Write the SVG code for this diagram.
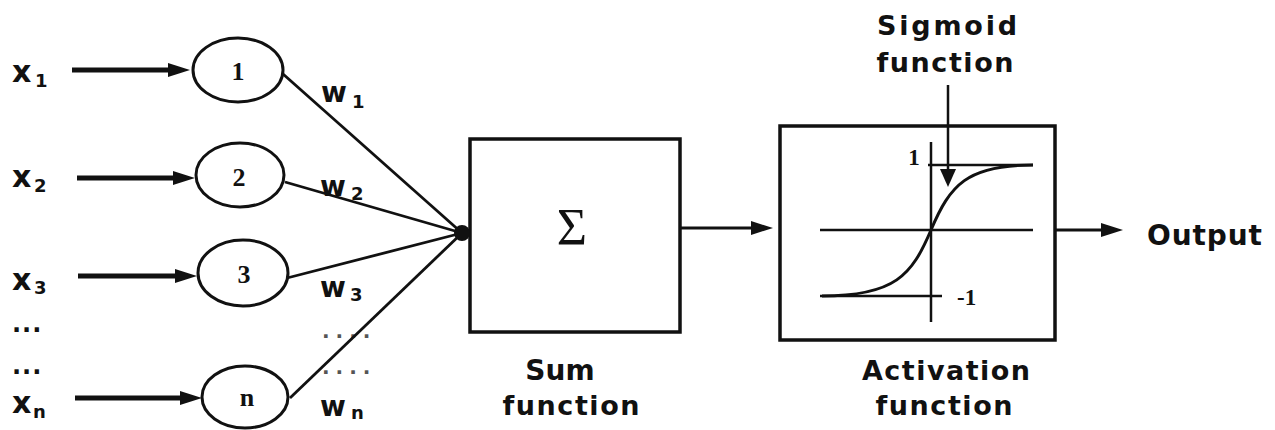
<svg xmlns="http://www.w3.org/2000/svg" width="1275" height="430" viewBox="0 0 1275 430">
<style>
.t{font-family:"DejaVu Sans","Open Sans",sans-serif;font-weight:bold;fill:#111}
.lbl{font-size:27px;text-anchor:middle}
.var{font-size:30px}
.sub{font-size:18px}
.dig{font-size:26px;text-anchor:middle;font-family:"Liberation Serif","DejaVu Serif",serif}
.node{fill:#fff;stroke:#111;stroke-width:3}
.box{fill:#fff;stroke:#111;stroke-width:3.5}
.in{stroke:#111;stroke-width:5;fill:none}
.w{stroke:#111;stroke-width:2.8;fill:none}
.ax{stroke:#111;stroke-width:2.5;fill:none}
</style>
<defs>
<marker id="ah" markerUnits="userSpaceOnUse" markerWidth="24" markerHeight="16" refX="6" refY="7" orient="auto">
<path d="M0,0 L22,7 L0,14 z" fill="#111"/>
</marker>
<marker id="ahs" markerUnits="userSpaceOnUse" markerWidth="20" markerHeight="20" refX="4" refY="8" orient="auto">
<path d="M0,0 L18,8 L0,16 z" fill="#111"/>
</marker>
</defs>
<rect width="1275" height="430" fill="#fff"/>

<g id="inputs">
<text class="t var" x="12" y="82">x</text><text class="t sub" x="35" y="87">1</text>
<text class="t var" x="12" y="187">x</text><text class="t sub" x="34" y="192">2</text>
<text class="t var" x="12" y="290">x</text><text class="t sub" x="34" y="294">3</text>
<text class="t" x="12" y="332" style="font-size:24px;letter-spacing:1px">...</text>
<text class="t" x="12" y="374" style="font-size:24px;letter-spacing:1px">...</text>
<text class="t var" x="12" y="413">x</text><text class="t sub" x="33" y="418">n</text>
</g>

<g id="node1"><ellipse class="node" cx="238" cy="70" rx="45" ry="32"/><text class="t dig" x="238" y="80">1</text></g>
<g id="node2"><ellipse class="node" cx="240" cy="175" rx="44" ry="32"/><text class="t dig" x="239" y="186">2</text></g>
<g id="node3"><ellipse class="node" cx="243" cy="273" rx="45" ry="33"/><text class="t dig" x="244" y="283">3</text></g>
<g id="noden"><ellipse class="node" cx="245" cy="397" rx="43" ry="31"/><text class="t dig" x="247" y="406">n</text></g>

<g id="weights">
<text class="t var" x="321" y="102" style="font-size:28px">w</text><text class="t sub" x="352" y="108">1</text>
<text class="t var" x="320" y="196" style="font-size:28px">w</text><text class="t sub" x="351" y="200">2</text>
<text class="t var" x="320" y="297" style="font-size:28px">w</text><text class="t sub" x="350" y="301">3</text>
<text class="t" x="322" y="338" style="font-size:20px;letter-spacing:6px;fill:#555">....</text>
<text class="t" x="322" y="374" style="font-size:20px;letter-spacing:6px;fill:#555">....</text>
<text class="t var" x="320" y="416" style="font-size:28px">w</text><text class="t sub" x="351" y="419">n</text>
</g>

<g id="sum">
<rect class="box" x="470" y="139" width="210" height="193"/>
<text x="572" y="245" style="font-family:'Liberation Serif','DejaVu Serif',serif;font-size:52px;text-anchor:middle;fill:#111">Σ</text>
<text class="t lbl" x="560" y="380" style="font-size:28px">Sum</text>
<text class="t lbl" x="571" y="415" textLength="137">function</text>
</g>

<g id="activation">
<rect class="box" x="780" y="126" width="275" height="214"/>
<line class="ax" x1="931" y1="142" x2="931" y2="322"/>
<line class="ax" x1="820" y1="230" x2="1033" y2="230"/>
<line class="ax" x1="928" y1="165" x2="1033" y2="165"/>
<line class="ax" x1="820" y1="296" x2="942" y2="296"/>
<path class="ax" style="stroke-width:3" d="M822 296 C895 296 912 275 931 230 C950 185 967 165 1033 165"/>
<text class="t" x="914" y="165" style="font-size:23px;text-anchor:middle;font-family:'Liberation Serif',serif">1</text>
<text class="t" x="957" y="305" style="font-size:23px;font-family:'Liberation Serif',serif">-1</text>
<text class="t lbl" x="946" y="380" textLength="168">Activation</text>
<text class="t lbl" x="944" y="415" textLength="137">function</text>
</g>

<g id="sigmoid-label">
<text class="t lbl" x="947" y="35" textLength="140">Sigmoid</text>
<text class="t lbl" x="945" y="72" textLength="137">function</text>
</g>

<g id="output">
<text class="t" x="1147" y="245" style="font-size:28px" textLength="115">Output</text>
</g>

<g id="connectors">
<line class="in" x1="72" y1="70" x2="174" y2="70" marker-end="url(#ah)"/>
<line class="in" x1="77" y1="178" x2="179" y2="178" marker-end="url(#ah)"/>
<line class="in" x1="78" y1="276" x2="181" y2="276" marker-end="url(#ah)"/>
<line class="in" x1="75" y1="398" x2="186" y2="398" marker-end="url(#ah)"/>
<line class="w" x1="283" y1="74" x2="462" y2="233"/>
<line class="w" x1="285" y1="182" x2="462" y2="233"/>
<line class="w" x1="287" y1="278" x2="462" y2="233"/>
<line class="w" x1="290" y1="398" x2="462" y2="233"/>
<circle cx="462" cy="233" r="8" fill="#111"/>
<line class="w" x1="680" y1="228" x2="757" y2="228" marker-end="url(#ah)"/>
<line class="w" x1="1055" y1="230" x2="1107" y2="230" marker-end="url(#ah)"/>
<line class="ax" x1="948" y1="85" x2="948" y2="173" marker-end="url(#ahs)"/>
</g>
</svg>
